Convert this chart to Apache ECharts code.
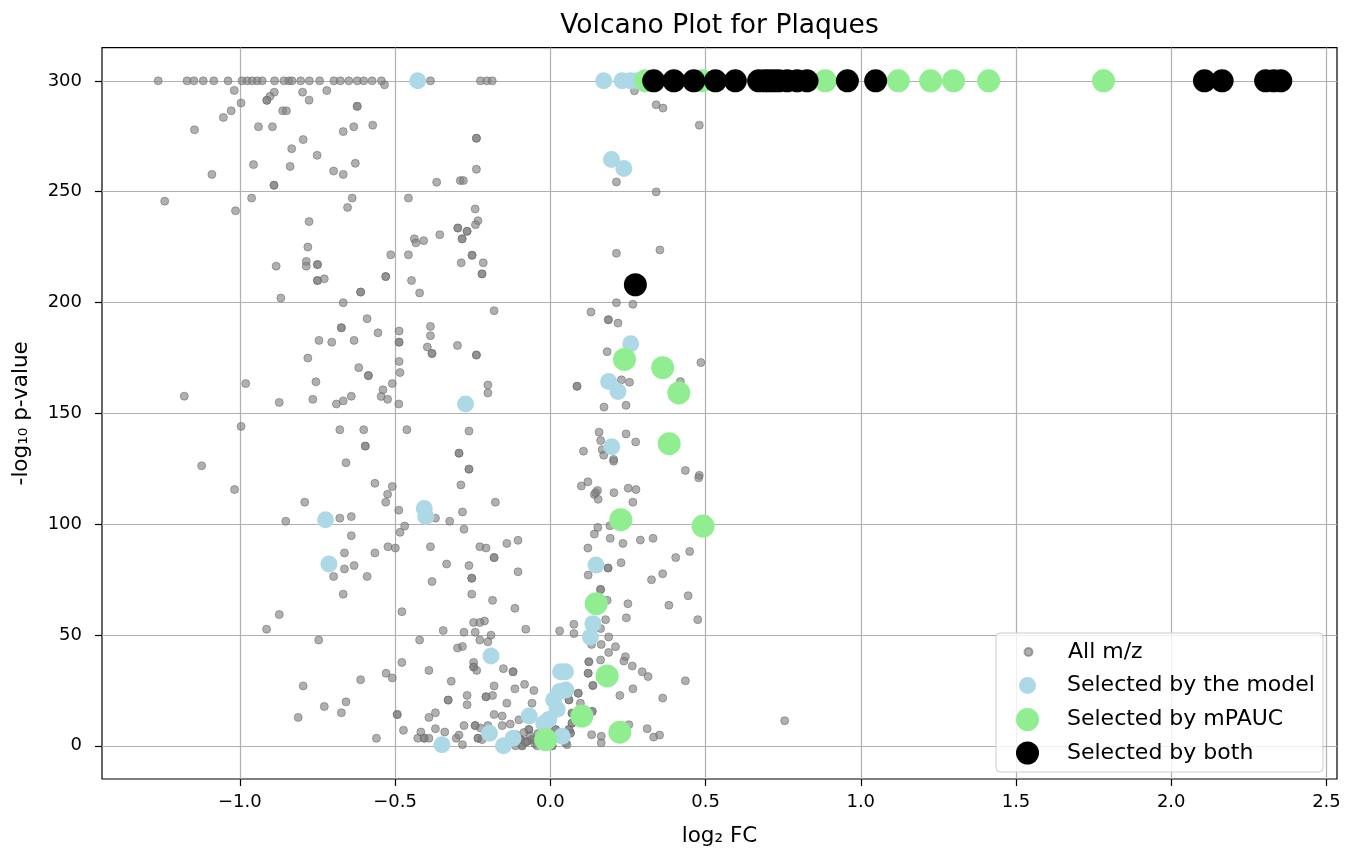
<!DOCTYPE html>
<html>
<head>
<meta charset="utf-8">
<title>Volcano Plot for Plaques</title>
<script src="https://cdn.jsdelivr.net/npm/echarts@6/dist/echarts.min.js"></script>
<style>
  html, body { margin: 0; padding: 0; background: #fff; }
  #chart { width: 1358px; height: 852px; }
</style>
</head>
<body>
<div id="chart"></div>
<script>
  // tick labels
  const xTicks = [-1.0, -0.5, 0.0, 0.5, 1.0, 1.5, 2.0, 2.5]
  const yTicks = [0, 50, 100, 150, 200, 250, 300]

  // All m/z  [log2 FC, -log10 p]
  const allMz = [
    // capped at 300
    [-1.263, 300], [-1.170, 300], [-1.148, 300], [-1.118, 300], [-1.084, 300], [-1.038, 300],
    [-0.993, 300], [-0.976, 300], [-0.960, 300], [-0.944, 300], [-0.928, 300], [-0.888, 300],
    [-0.858, 300], [-0.842, 300], [-0.832, 300], [-0.804, 300], [-0.776, 300], [-0.743, 300],
    [-0.697, 300], [-0.676, 300], [-0.649, 300], [-0.622, 300], [-0.601, 300], [-0.574, 300],
    [-0.544, 300], [-0.386, 300], [-0.225, 300], [-0.204, 300], [-0.187, 300],
    // upper left
    [-1.018, 295.7], [-0.534, 298.2], [-0.889, 294.9], [-0.903, 293.0], [-0.913, 291.2], [-0.913, 291.2],
    [-0.798, 294.9], [-0.777, 291.3], [-0.720, 295.6], [-0.996, 290.0], [-1.028, 286.5], [-1.053, 283.5],
    [-1.146, 277.9], [-0.862, 286.5], [-0.850, 286.5], [-0.622, 288.5], [-0.622, 288.5], [-0.940, 279.3],
    [-0.895, 279.3], [-0.667, 277.1], [-0.633, 279.3], [-0.572, 280.0], [-0.796, 273.5], [-0.833, 269.4],
    [-0.751, 266.4], [-0.956, 262.2], [-0.838, 261.4], [-0.698, 259.3], [-0.667, 257.8], [-0.628, 262.8],
    [-1.090, 257.8], [-0.890, 252.9], [-0.890, 252.9], [-0.238, 274.1], [-0.238, 274.1], [-0.238, 260.1],
    [-0.366, 254.3], [-0.290, 255.0], [-0.280, 255.0], [-1.242, 245.7], [-1.014, 241.4], [-0.962, 247.1],
    [-0.638, 247.1], [-0.653, 242.9], [-0.457, 247.1], [-0.777, 236.5], [-0.781, 225.0], [-0.514, 221.5],
    [-0.457, 221.5], [-0.242, 242.2], [-0.233, 236.9], [-0.241, 235.1], [-0.298, 233.6], [-0.298, 233.6],
    [-0.268, 232.1], [-0.268, 232.1], [-0.284, 228.7], [-0.284, 228.7], [-0.356, 230.6], [-0.438, 228.7],
    [-0.408, 227.9], [-0.433, 226.9], [-0.252, 221.3], [-0.252, 221.3],
    // middle left
    [-0.883, 216.4], [-0.786, 218.5], [-0.786, 216.4], [-0.750, 217.1], [-0.750, 217.1], [-0.750, 209.9],
    [-0.750, 209.9], [-0.728, 210.7], [-0.868, 202.0], [-0.611, 204.7], [-0.611, 204.7], [-0.667, 199.9],
    [-0.530, 211.7], [-0.530, 211.7], [-0.447, 209.9], [-0.421, 204.3], [-0.287, 217.9], [-0.216, 217.9],
    [-0.220, 212.9], [-0.220, 212.9], [-0.181, 196.3], [-0.590, 192.7], [-0.673, 188.6], [-0.673, 188.6],
    [-0.555, 186.3], [-0.745, 182.9], [-0.704, 182.1], [-0.632, 182.9], [-0.487, 187.1], [-0.487, 182.1],
    [-0.487, 182.1], [-0.386, 189.2], [-0.386, 185.0], [-0.396, 179.9], [-0.381, 177.0], [-0.381, 177.0],
    [-0.299, 180.6], [-0.238, 176.3], [-0.238, 176.3], [-0.781, 174.9], [-0.617, 170.6], [-0.586, 167.0],
    [-0.586, 167.0], [-0.487, 173.4], [-0.484, 168.4], [-0.509, 163.4], [-0.539, 160.6], [-0.545, 157.6],
    [-0.524, 156.3], [-0.488, 154.2], [-0.755, 164.2], [-0.765, 156.3], [-0.641, 157.7], [-0.667, 155.6],
    [-0.689, 154.2], [-0.873, 154.9], [-0.981, 163.4], [-1.179, 157.7], [-0.201, 162.8], [-0.201, 159.2],
    [-0.996, 144.1], [-0.678, 142.6], [-0.601, 142.6], [-0.462, 142.6], [-0.596, 135.2], [-0.596, 135.2],
    [-0.658, 127.7], [-0.262, 142.0], [-0.294, 132.0], [-0.294, 132.0], [-0.262, 124.8], [-0.262, 124.8],
    [-0.288, 117.7], [-1.123, 126.3], [-1.017, 115.6], [-0.565, 118.4], [-0.509, 117.0], [-0.524, 113.5],
    // lower left
    [-0.530, 109.9], [-0.791, 109.9], [-0.852, 101.3], [-0.678, 102.7], [-0.641, 103.4], [-0.641, 94.8],
    [-0.488, 106.3], [-0.469, 99.1], [-0.484, 96.3], [-0.370, 102.7], [-0.324, 101.3], [-0.283, 105.5],
    [-0.278, 97.7], [-0.177, 109.9], [-0.663, 87.0], [-0.565, 87.0], [-0.523, 89.8], [-0.499, 89.2],
    [-0.386, 89.8], [-0.227, 89.8], [-0.207, 89.2], [-0.140, 91.3], [-0.104, 92.7], [-0.181, 84.9],
    [-0.181, 84.9], [-0.663, 79.8], [-0.632, 81.3], [-0.698, 76.4], [-0.590, 76.4], [-0.667, 68.4],
    [-0.334, 82.0], [-0.262, 81.3], [-0.253, 75.6], [-0.253, 75.6], [-0.381, 74.1], [-0.253, 68.4],
    [-0.186, 65.6], [-0.104, 78.5], [-0.114, 62.0], [-0.478, 60.5], [-0.873, 59.2], [-0.914, 52.6],
    [-0.746, 47.7], [-0.421, 47.7], [-0.345, 52.0], [-0.278, 51.2], [-0.247, 55.6], [-0.212, 56.3],
    [-0.227, 55.6], [-0.242, 51.2], [-0.227, 47.7], [-0.201, 46.9], [-0.191, 49.9], [-0.079, 52.6],
    [-0.299, 44.1], [-0.283, 44.8], [-0.247, 37.6], [-0.247, 35.5], [-0.247, 35.5], [-0.237, 34.0],
    [-0.478, 37.6], [-0.391, 34.0], [-0.319, 29.1], [-0.151, 34.8], [-0.120, 33.4], [-0.120, 33.4],
    [-0.529, 32.7], [-0.509, 30.6], [-0.611, 29.8], [-0.796, 27.0], [-0.658, 19.8], [-0.728, 17.7],
    [-0.673, 14.9], [-0.812, 12.8], [-0.181, 27.0], [-0.114, 25.7], [-0.083, 27.7], [-0.053, 24.9],
    [-0.268, 22.7], [-0.207, 22.1], [-0.207, 22.1], [-0.186, 22.7], [-0.329, 20.6], [-0.329, 20.6],
    [-0.268, 18.5], [-0.140, 19.2], [-0.059, 19.2], [-0.493, 14.1], [-0.493, 14.1], [-0.370, 14.9],
    [-0.391, 12.8], [-0.181, 14.1], [-0.155, 13.4], [-0.473, 7.0], [-0.417, 6.2], [-0.370, 7.7],
    [-0.340, 6.2], [-0.427, 3.4], [-0.406, 3.4], [-0.406, 3.4], [-0.391, 3.4], [-0.560, 3.4],
    [-0.303, 3.4], [-0.294, 4.8], [-0.278, 9.1], [-0.242, 9.1], [-0.242, 9.1], [-0.201, 9.1],
    [-0.155, 9.1], [-0.129, 9.8], [-0.233, 3.4], [-0.233, 3.4], [-0.283, 0.5],
    [-0.225, 8.0], [-0.101, 11.7], [-0.220, 2.8], [-0.069, 7.3], [-0.069, 7.3], [-0.059, 2.8],
    [-0.059, 2.8], [-0.091, 0.0], [-0.091, 0.0], [-0.112, 0.0], [-0.075, 2.0], [-0.075, 2.0],
    [-0.096, 2.8], [-0.096, 2.8], [-0.043, 0.0], [-0.134, 1.3], [-0.110, 5.0], [-0.100, 3.0],
    [-0.085, 6.0], [-0.080, 1.5], [-0.065, 4.5], [-0.050, 1.0], [-0.040, 5.5], [-0.030, 2.0],
    // right of zero
    [0.271, 295.5], [0.341, 289.2], [0.363, 287.7], [0.480, 280.0], [0.213, 254.4], [0.341, 249.9],
    [0.213, 222.2], [0.353, 223.7], [0.213, 199.9], [0.266, 199.2], [0.131, 195.7], [0.187, 192.2],
    [0.187, 192.2], [0.218, 190.7], [0.183, 177.8], [0.485, 172.9], [0.229, 165.1], [0.255, 164.0],
    [0.086, 162.2], [0.086, 162.2], [0.419, 164.3], [0.173, 152.8], [0.244, 153.6], [0.157, 141.5],
    [0.162, 137.7], [0.244, 140.7], [0.275, 137.1], [0.107, 132.9], [0.167, 133.6], [0.172, 131.1],
    [0.204, 129.2], [0.204, 128.4], [0.435, 124.2], [0.480, 122.0], [0.152, 115.2], [0.142, 113.4],
    [0.121, 119.1], [0.100, 117.2], [0.146, 114.2], [0.154, 111.2], [0.205, 114.2], [0.251, 116.2],
    [0.276, 115.6], [0.266, 109.9], [0.478, 120.9],
    [0.192, 99.3], [0.153, 98.5], [0.142, 95.5], [0.121, 89.2], [0.193, 93.6], [0.234, 91.3],
    [0.290, 92.8], [0.331, 93.6], [0.404, 84.9], [0.449, 87.7], [0.228, 82.6], [0.186, 80.2],
    [0.186, 80.2], [0.122, 77.0], [0.326, 74.9], [0.362, 77.6], [0.382, 63.4], [0.444, 67.7],
    [0.475, 56.9], [0.250, 64.1], [0.245, 57.7], [0.162, 70.5], [0.162, 70.5], [0.183, 65.6],
    [0.178, 56.9], [0.162, 52.9], [0.076, 54.8], [0.076, 50.6], [0.030, 51.8], [0.188, 49.1],
    [0.164, 45.7], [0.210, 44.7], [0.188, 42.1], [0.133, 45.7], [0.242, 40.2], [0.237, 38.2],
    [0.264, 36.0], [0.296, 33.4], [0.315, 31.2], [0.435, 29.3], [0.162, 38.7], [0.124, 37.9],
    [0.124, 37.9], [0.122, 32.7], [0.122, 32.7], [0.137, 27.2], [0.137, 27.2], [0.224, 22.7],
    [0.266, 25.7], [0.362, 21.5], [0.090, 23.7], [0.090, 23.7], [0.097, 19.2], [0.070, 14.7],
    [0.070, 14.7], [0.065, 5.7], [0.065, 5.7], [0.054, 0.5], [0.133, 5.0], [0.164, 4.3],
    [0.164, 1.3], [0.312, 7.7], [0.333, 3.9], [0.352, 4.8], [0.755, 11.3], [0.253, 9.5],
    [0.060, 20.7], [0.060, 20.7], [0.070, 10.2], [0.070, 10.2], [0.060, 7.3], [0.060, 7.3],
    [0.049, 1.3], [0.135, 15.5], [0.135, 15.5], [0.017, 7.3], [0.017, 7.3], [0.006, 0.0], [0.006, 0.0]
  ]

  // Selected by the model
  const byModel = [
    [-0.427, 300], [0.172, 300], [0.231, 300], [0.258, 300], [0.280, 300],
    [0.197, 264.5], [0.237, 260.5], [0.259, 181.4], [0.188, 164.3], [0.218, 159.8], [0.198, 134.9],
    [-0.273, 154.2], [-0.724, 102.0], [-0.406, 107.0], [-0.401, 103.4], [-0.713, 82.0], [0.147, 81.5],
    [0.137, 55.1], [0.129, 49.1], [-0.191, 40.5], [0.049, 33.4], [0.033, 33.4], [0.050, 25.2],
    [0.030, 24.5], [0.011, 20.7], [0.022, 16.5], [-0.068, 13.4], [-0.005, 11.8], [-0.021, 10.0],
    [0.038, 4.3], [-0.196, 5.6], [-0.151, 0.0], [-0.120, 3.4], [-0.349, 0.5]
  ]

  // Selected by mPAUC
  const byMpauc = [
    [0.307, 300], [0.489, 300], [0.886, 300], [1.121, 300], [1.225, 300], [1.299, 300], [1.412, 300], [1.782, 300],
    [0.239, 174.3], [0.362, 170.6], [0.414, 159.2], [0.383, 136.3], [0.227, 102.0], [0.492, 99.1],
    [0.148, 64.1], [0.183, 31.5], [0.102, 13.4], [-0.015, 2.8], [0.224, 6.1]
  ]

  // Selected by both
  const byBoth = [
    [0.333, 300], [0.398, 300], [0.462, 300], [0.532, 300], [0.596, 300], [0.671, 300], [0.690, 300],
    [0.704, 300], [0.720, 300], [0.736, 300], [0.763, 300], [0.795, 300], [0.827, 300], [0.957, 300],
    [1.048, 300], [2.107, 300], [2.164, 300], [2.304, 300], [2.330, 300], [2.353, 300],
    [0.274, 208.0]
  ]

  const font = 'DejaVu Sans'
  const chart = echarts.init(document.getElementById('chart'), null, { renderer: 'canvas' })

  // one legend per row so each marker keeps its own size
  const legendRows = [
    { name: 'All m/z', size: 8, y: 652.5 },
    { name: 'Selected by the model', size: 17, y: 686 },
    { name: 'Selected by mPAUC', size: 23, y: 719.5 },
    { name: 'Selected by both', size: 23, y: 753 }
  ]
  const iconCenter = 1027.5
  const textLeft = 1067
  const legends = legendRows.map(r => ({
    data: [{ name: r.name, icon: 'circle' }],
    orient: 'vertical',
    left: iconCenter - r.size / 2,
    top: r.y - Math.max(r.size, 23) / 2,
    itemWidth: r.size,
    itemHeight: r.size,
    padding: 0,
    selectedMode: false,
    z: 10,
    textStyle: {
      fontFamily: font,
      fontSize: 22,
      color: '#000',
      padding: [0, 0, 0, textLeft - (iconCenter + r.size / 2 + 5)]
    }
  }))

  const tickLabel = { fontFamily: font, fontSize: 18, color: '#000' }
  const nameStyle = { fontFamily: font, fontSize: 21.5, color: '#000' }

  chart.setOption({
    animation: false,
    backgroundColor: '#fff',
    title: {
      text: 'Volcano Plot for Plaques',
      left: 719.5,
      textAlign: 'center',
      top: 13,
      padding: 0,
      textStyle: { fontFamily: font, fontSize: 26.5, fontWeight: 'normal', color: '#000' }
    },
    legend: legends,
    graphic: [{
      type: 'rect',
      z: 8,
      shape: { x: 996, y: 633, width: 327, height: 139, r: 4 },
      style: { fill: 'rgba(255,255,255,0.8)', stroke: '#cccccc', lineWidth: 1 }
    }],
    grid: {
      left: 102,
      right: 21,
      top: 47.6,
      bottom: 69,
      show: true,
      borderColor: '#000',
      borderWidth: 1.2
    },
    xAxis: {
      type: 'value',
      min: -1.444,
      max: 2.534,
      splitNumber: 8,
      name: 'log₂ FC',
      nameLocation: 'middle',
      nameGap: 46,
      nameTextStyle: nameStyle,
      axisLine: { show: false, onZero: false },
      axisTick: { show: true, length: 7, customValues: xTicks, lineStyle: { color: '#000', width: 1.2 } },
      axisLabel: Object.assign({
        margin: 14,
        customValues: xTicks,
        formatter: v => (v < 0 ? '\u2212' : '') + Math.abs(v).toFixed(1)
      }, tickLabel),
      splitLine: { show: true, lineStyle: { color: '#b0b0b0', width: 1.2 } }
    },
    yAxis: {
      type: 'value',
      min: -15,
      max: 315,
      splitNumber: 7,
      name: '-log₁₀ p-value',
      nameLocation: 'middle',
      nameGap: 70,
      nameTextStyle: nameStyle,
      axisLine: { show: false, onZero: false },
      axisTick: { show: true, length: 7, customValues: yTicks, lineStyle: { color: '#000', width: 1.2 } },
      axisLabel: Object.assign({ margin: 20, customValues: yTicks }, tickLabel),
      splitLine: { show: true, lineStyle: { color: '#b0b0b0', width: 1.2 } }
    },
    series: [
      {
        name: 'All m/z',
        type: 'scatter',
        symbolSize: 8,
        data: allMz,
        itemStyle: { color: 'rgba(128,128,128,0.62)', borderColor: 'rgba(105,105,105,0.55)', borderWidth: 1, opacity: 1 }
      },
      {
        name: 'Selected by the model',
        type: 'scatter',
        symbolSize: 17,
        data: byModel,
        itemStyle: { color: '#add8e6', opacity: 1 }
      },
      {
        name: 'Selected by mPAUC',
        type: 'scatter',
        symbolSize: 23,
        data: byMpauc,
        itemStyle: { color: '#90ee90', opacity: 1 }
      },
      {
        name: 'Selected by both',
        type: 'scatter',
        symbolSize: 23,
        data: byBoth,
        itemStyle: { color: '#000', opacity: 1 }
      }
    ]
  })
</script>
</body>
</html>
